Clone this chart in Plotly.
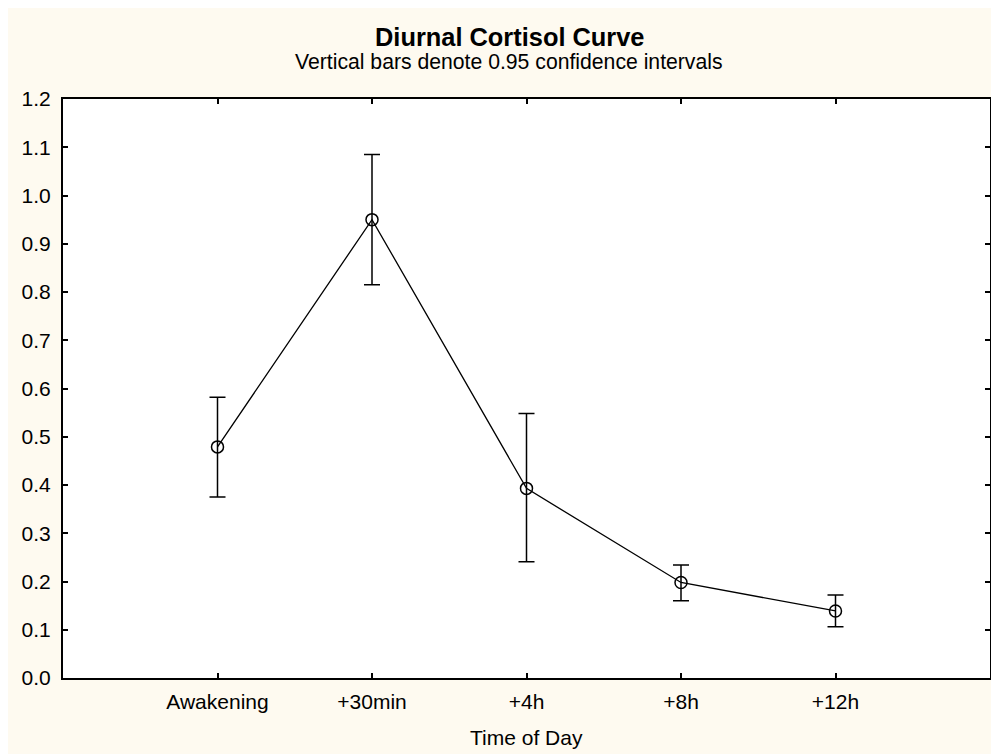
import plotly.graph_objects as go

categories = ["Awakening", "+30min", "+4h", "+8h", "+12h"]
means = [0.479, 0.950, 0.393, 0.198, 0.139]
upper = [0.582, 1.085, 0.548, 0.234, 0.172]
lower = [0.375, 0.815, 0.241, 0.160, 0.106]
y_ticks = [0.0, 0.1, 0.2, 0.3, 0.4, 0.5, 0.6, 0.7, 0.8, 0.9, 1.0, 1.1, 1.2]

err_plus = [u - m for u, m in zip(upper, means)]
err_minus = [m - l for m, l in zip(means, lower)]
xpos = list(range(len(categories)))

W, H = 999, 754
L, R, T, B = 55, 17, 91, 84
pw, ph = W - L - R, H - T - B

def px_x(px):
    return (px - L) / pw

def px_y(py):
    return (H - B - py) / ph

FONT = "Liberation Sans, Arial, sans-serif"
CREAM = "#FEFAF0"

fig = go.Figure()
fig.add_trace(go.Scatter(
    x=xpos, y=means, mode="lines+markers",
    line=dict(color="black", width=1.3),
    marker=dict(symbol="circle-open", size=12, color="black", line=dict(width=1.5, color="black")),
    error_y=dict(type="data", array=err_plus, arrayminus=err_minus, symmetric=False,
                 color="black", thickness=1.5, width=8),
    showlegend=False,
    cliponaxis=False,
))

fig.update_layout(
    width=W, height=H,
    margin=dict(l=L, r=R, t=T, b=B),
    paper_bgcolor=CREAM,
    plot_bgcolor="white",
    font=dict(family=FONT, size=20, color="black"),
    annotations=[
        dict(text="<b>Diurnal Cortisol Curve</b>", xref="paper", yref="paper",
             x=px_x(501), y=px_y(29), xanchor="center", yanchor="middle", showarrow=False,
             font=dict(family=FONT, size=25.4, color="black")),
        dict(text="Vertical bars denote 0.95 confidence intervals", xref="paper", yref="paper",
             x=px_x(501), y=px_y(54), xanchor="center", yanchor="middle", showarrow=False,
             font=dict(family=FONT, size=21.2, color="black")),
        dict(text="Time of Day", xref="paper", yref="paper",
             x=px_x(518), y=px_y(729), xanchor="center", yanchor="middle", showarrow=False,
             font=dict(family=FONT, size=21, color="black")),
    ],
)

fig.update_xaxes(
    range=[-1, len(categories)],
    tickmode="array", tickvals=xpos, ticktext=categories,
    ticks="inside", ticklen=5, tickwidth=1.5, tickcolor="black",
    showline=True, linecolor="black", linewidth=2, mirror="ticks",
    showgrid=False, zeroline=False,
    tickfont=dict(family=FONT, size=21, color="black"),
    ticklabelstandoff=4,
)
fig.update_yaxes(
    range=[0, 1.2],
    tickmode="array", tickvals=y_ticks, ticktext=[f"{v:.1f}" for v in y_ticks],
    ticks="inside", ticklen=5, tickwidth=1.5, tickcolor="black",
    showline=True, linecolor="black", linewidth=2, mirror="ticks",
    showgrid=False, zeroline=False,
    tickfont=dict(family=FONT, size=21, color="black"),
    ticklabelstandoff=6,
)

fig.write_html("out.html")
